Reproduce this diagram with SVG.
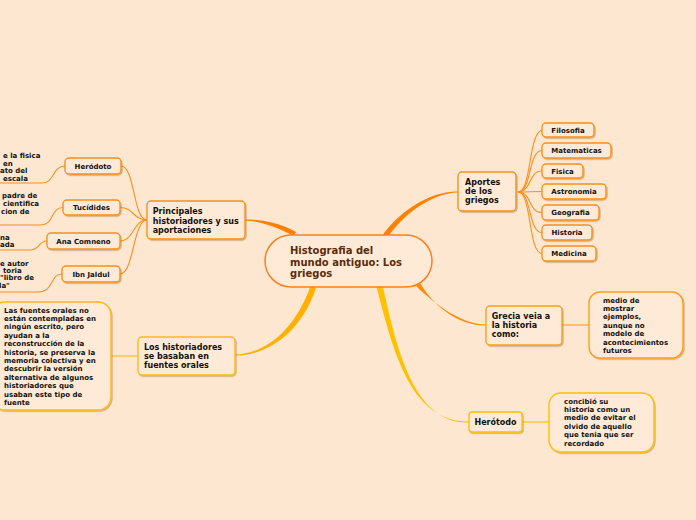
<svg xmlns="http://www.w3.org/2000/svg" width="696" height="520" viewBox="0 0 696 520">
<defs>
<filter id="sh" x="-10%" y="-10%" width="130%" height="140%">
<feDropShadow dx="1" dy="1.2" stdDeviation="0.7" flood-color="#8a4a10" flood-opacity="0.35"/>
</filter>
<style>
text{font-family:"DejaVu Sans",Verdana,sans-serif;font-weight:bold;fill:#111}
.t7{font-size:7px}
.t8{font-size:8px}
.c{text-anchor:middle}
.ctr{font-size:10px;fill:#5a2d0c}
.box{fill:#feead6;stroke-width:1.4;filter:url(#sh)}
.o{stroke:#f7901e}
.y{stroke:#ffb81c}
.yy{stroke:#ffc000}
.g{stroke:#f9a11b}
.ln{fill:none;stroke-width:1.1}
</style>
</defs>
<rect width="696" height="520" fill="#fde7d0"/>
<g id="connectors">
<path d="M383,234.6 C398,213.6 428,191 458,191.5 L458,192.5 C430,193 402,216.4 387.5,237.4 Z" fill="#ff7f00"/>
<path d="M296,232 C276,221 256,219.5 245,219.5 L245,220.5 C256,221 274,225 293.5,236 Z" fill="#ff8000"/>
<path d="M416,286 C438,307 463,324.5 486,324.5 L486,325.5 C462,326 436,310 420,283 Z" fill="#ff8c00"/>
<path d="M376.5,287 C393,350 410,422 469,421.5 L469,422.5 C414,424 397,350 383,287 Z" fill="#ffc000"/>
<path d="M310.5,286 C294,333 262,354.5 235,354.5 L235,355.5 C264,356 300,336 316,288 Z" fill="#ffb000"/>
<g class="ln o">
<path d="M147,220 C133,220 135,166 121,166"/>
<path d="M147,220 C133,220 134,207.5 120,207.5"/>
<path d="M147,220 C133,220 134,241 120,241"/>
<path d="M147,220 C133,220 134,274 120,274"/>
<path d="M65,166 C52,166 55,183 42,183 L-5,183"/>
<path d="M63,207.5 C50,207.5 55,225 40,225 L-5,225"/>
<path d="M47,241 C38,241 40,250 30,250 L-5,250"/>
<path d="M62,274 C50,274 54,292 38,292 L-5,292"/>
</g>
<g class="ln o">
<path d="M518,192 C532,192 528,130 543,130"/>
<path d="M518,192 C532,192 528,150.5 542,150.5"/>
<path d="M518,192 C532,192 528,171 542,171"/>
<path d="M518,192 C530,192 530,191.5 542,191.5"/>
<path d="M518,192 C532,192 528,212.5 542,212.5"/>
<path d="M518,192 C532,192 528,232.5 542,232.5"/>
<path d="M518,192 C532,192 528,253.5 542,253.5"/>
</g>
<path class="ln g" d="M562,325 L589,325"/>
<path class="ln yy" d="M522,422 L549,422"/>
<path class="ln y" d="M111,356 L138,356"/>
</g>
<g id="center">
<rect x="265" y="235" width="167" height="52" rx="26" fill="#feead6" stroke="#f5821f" stroke-width="1.5"/>
<text class="ctr" x="290" y="254">Histografia del</text>
<text class="ctr" x="290" y="265.5">mundo antiguo: Los</text>
<text class="ctr" x="290" y="277">griegos</text>
</g>
<g id="principales">
<rect class="box o" x="147" y="201" width="98" height="38" rx="4"/>
<text class="t8" x="152.7" y="214">Principales</text>
<text class="t8" x="152.7" y="223.5">historiadores y sus</text>
<text class="t8" x="152.7" y="233">aportaciones</text>
</g>
<g id="herodoto">
<rect class="box o" x="65" y="158" width="56" height="16" rx="4"/>
<text class="t7 c" x="93" y="168.6">Heródoto</text>
</g>
<g id="tucidides">
<rect class="box o" x="63" y="200" width="57" height="15" rx="4"/>
<text class="t7 c" x="91.5" y="210">Tucídides</text>
</g>
<g id="ana">
<rect class="box o" x="47" y="233" width="73" height="16" rx="4"/>
<text class="t7 c" x="83.5" y="243.6">Ana Comneno</text>
</g>
<g id="ibn">
<rect class="box o" x="62" y="266" width="58" height="16" rx="4"/>
<text class="t7 c" x="91" y="276.6">Ibn Jaldul</text>
</g>
<g id="leaf-herodoto">
<text class="t7" x="3" y="157.5">e la fisica</text>
<text class="t7" x="3" y="165.5">en</text>
<text class="t7" x="0" y="173">ato del</text>
<text class="t7" x="3" y="180.5">escala</text>
</g>
<g id="leaf-tucidides">
<text class="t7" x="2" y="198">padre de</text>
<text class="t7" x="3" y="206">cientifica</text>
<text class="t7" x="1" y="214">cion de</text>
</g>
<g id="leaf-ana">
<text class="t7" x="0" y="239.5">na</text>
<text class="t7" x="0" y="247">ada</text>
</g>
<g id="leaf-ibn">
<text class="t7" x="0" y="265.5">e autor</text>
<text class="t7" x="3" y="272.5">toria</text>
<text class="t7" x="0" y="280">"libro de</text>
<text class="t7" x="-1" y="288">la"</text>
</g>
<g id="los-historiadores">
<rect class="box y" x="138" y="337" width="97" height="38" rx="4"/>
<text class="t8" x="144" y="350">Los historiadores</text>
<text class="t8" x="144" y="359">se basaban en</text>
<text class="t8" x="144" y="368">fuentes orales</text>
</g>
<g id="leaf-fuentes">
<rect class="box y" x="-8" y="302" width="119" height="108" rx="13"/>
<text class="t7" x="4" y="312.5">Las fuentes orales no</text>
<text class="t7" x="4" y="320.9">están contempladas en</text>
<text class="t7" x="4" y="329.3">ningún escrito, pero</text>
<text class="t7" x="4" y="337.7">ayudan a la</text>
<text class="t7" x="4" y="346.1">reconstrucción de la</text>
<text class="t7" x="4" y="354.5">historia, se preserva la</text>
<text class="t7" x="4" y="362.9">memoria colectiva y en</text>
<text class="t7" x="4" y="371.3">descubrir la versión</text>
<text class="t7" x="4" y="379.7">alternativa de algunos</text>
<text class="t7" x="4" y="388.1">historiadores que</text>
<text class="t7" x="4" y="396.5">usaban este tipo de</text>
<text class="t7" x="4" y="404.9">fuente</text>
</g>
<g id="aportes">
<rect class="box o" x="458" y="172" width="58" height="39" rx="4"/>
<text class="t8" x="465" y="185">Aportes</text>
<text class="t8" x="465" y="194">de los</text>
<text class="t8" x="465" y="202.5">griegos</text>
</g>
<g id="filosofia">
<rect class="box o" x="542" y="123" width="52" height="14" rx="4"/>
<text class="t7 c" x="568" y="132.5">Filosofia</text>
</g>
<g id="matematicas">
<rect class="box o" x="542" y="143" width="69" height="15" rx="4"/>
<text class="t7 c" x="576.5" y="153">Matematicas</text>
</g>
<g id="fisica">
<rect class="box o" x="542" y="164" width="41" height="14" rx="4"/>
<text class="t7 c" x="562.5" y="173.5">Fisica</text>
</g>
<g id="astronomia">
<rect class="box o" x="542" y="184" width="64" height="15" rx="4"/>
<text class="t7 c" x="574" y="194">Astronomia</text>
</g>
<g id="geografia">
<rect class="box o" x="542" y="205" width="57" height="15" rx="4"/>
<text class="t7 c" x="570.5" y="215">Geografia</text>
</g>
<g id="historia">
<rect class="box o" x="542" y="225" width="50" height="15" rx="4"/>
<text class="t7 c" x="567" y="235">Historia</text>
</g>
<g id="medicina">
<rect class="box o" x="542" y="246" width="54" height="15" rx="4"/>
<text class="t7 c" x="569" y="256">Medicina</text>
</g>
<g id="grecia">
<rect class="box g" x="486" y="306" width="76" height="39" rx="4"/>
<text class="t8" x="491.7" y="319">Grecia veia a</text>
<text class="t8" x="491.7" y="328">la historia</text>
<text class="t8" x="491.7" y="337">como:</text>
</g>
<g id="leaf-grecia">
<rect class="box g" x="589" y="292" width="94" height="66" rx="11"/>
<text class="t7" x="603" y="302.5">medio de</text>
<text class="t7" x="603" y="310.9">mostrar</text>
<text class="t7" x="603" y="319.3">ejemplos,</text>
<text class="t7" x="603" y="327.7">aunque no</text>
<text class="t7" x="603" y="336.1">modelo de</text>
<text class="t7" x="603" y="344.5">acontecimientos</text>
<text class="t7" x="603" y="352.9">futuros</text>
</g>
<g id="herotodo">
<rect class="box yy" x="469" y="412" width="53" height="20" rx="3"/>
<text class="t8 c" x="495.5" y="424.8">Herótodo</text>
</g>
<g id="leaf-herotodo">
<rect class="box yy" x="549" y="393" width="105" height="59" rx="12"/>
<text class="t7" x="564" y="403.5">concibió su</text>
<text class="t7" x="564" y="411.9">historia como un</text>
<text class="t7" x="564" y="420.3">medio de evitar el</text>
<text class="t7" x="564" y="428.7">olvido de aquello</text>
<text class="t7" x="564" y="437.1">que tenia que ser</text>
<text class="t7" x="564" y="445.5">recordado</text>
</g>
</svg>
